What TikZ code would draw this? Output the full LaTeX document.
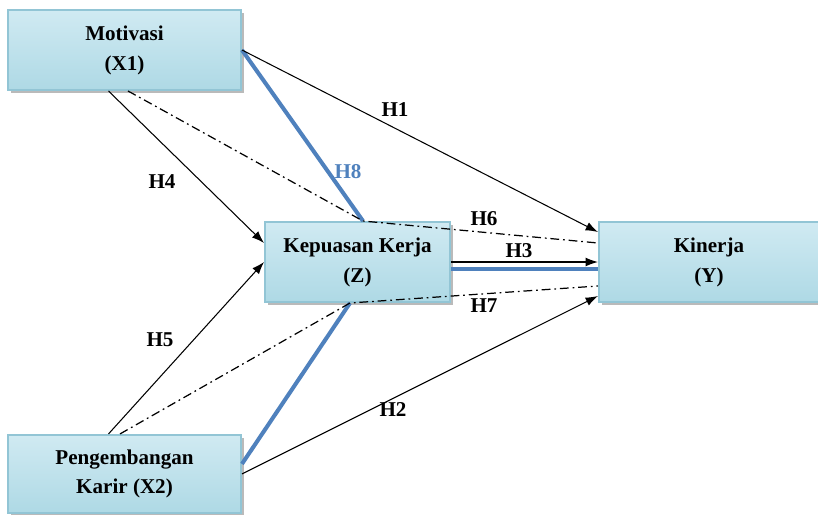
\documentclass[tikz,border=0pt]{standalone}
\usepackage{fontspec}
\setmainfont{Liberation Serif}
\usetikzlibrary{positioning, calc, shadows, arrows.meta}
\definecolor{boxtop}{RGB}{208,234,242}
\definecolor{boxmid}{RGB}{236,246,249}
\definecolor{boxbot}{RGB}{174,217,229}
\definecolor{boxline}{RGB}{146,197,213}
\definecolor{pathblue}{RGB}{79,129,189}

\begin{document}
\begin{tikzpicture}[
        x=0.02cm, y=-0.02cm,
        node distance=1.5cm,
        block/.style={
          align=center, draw=boxline, line width=0.4mm, minimum width=4.66cm, minimum height=1.6cm,
          top color=boxtop, middle color=boxmid, bottom color=boxbot,
          drop shadow={shadow xshift=1.6pt, shadow yshift=-1.6pt, fill=black!45, opacity=.6},
          font=\bfseries\fontsize{12}{17}\selectfont
        },
        hyp/.style={
          font=\bfseries\fontsize{12}{14}\selectfont
        },
        direct/.style={
          line width=0.6pt, ->
        },
        dashdot/.style={
          line width=0.7pt, dash pattern=on 5pt off 2.2pt on 1pt off 2.2pt
        },
        bluepath/.style={
          line width=2.3pt, draw=pathblue
        },
        >={Latex[length=7pt,width=5pt]},
      ]
        \useasboundingbox (0,0) rectangle (818,514);

        % boxes
        \node [block] (mot) at (124.5,50) {Motivasi\\(X1)};
        \node [block, below=6.86cm of mot, minimum height=1.56cm] (pen) {Pengembangan\\Karir (X2)};
        \node [block, minimum width=3.7cm] (kep) at (357.5,262) {Kepuasan Kerja\\(Z)};
        \node [block, right=2.94cm of kep, minimum width=4.4cm] (kin) {Kinerja\\(Y)};

        % points on Z
        \coordinate (ztop) at ([xshift=0.11cm]kep.north);
        \coordinate (zbot) at ([xshift=-0.15cm]kep.south);

        % blue paths
        \draw [bluepath] (mot.east) -- (ztop);
        \draw [bluepath] ([yshift=0.2cm]pen.east) -- (zbot);
        \draw [bluepath] ([yshift=-0.14cm]kep.east) -- ([yshift=-0.14cm]kin.west);

        % direct effects
        \draw [direct] (mot.east) -- ([yshift=0.6cm]kin.west);
        \draw [direct] ([xshift=-0.32cm]mot.south) -- ([yshift=0.38cm]kep.west);
        \draw [direct] ([xshift=-0.32cm]pen.north) -- (kep.west);
        \draw [direct] (kep.east) -- (kin.west);
        \draw [direct] (pen.east) -- ([yshift=-0.68cm]kin.west);

        % indirect effects
        \draw [dashdot] ([xshift=0.07cm]mot.south) -- (ztop) -- ([yshift=0.38cm]kin.west);
        \draw [dashdot] ([xshift=-0.09cm]pen.north) -- (zbot) -- ([yshift=-0.48cm]kin.west);

        % hypotheses
        \node [hyp] (h1) at (395,110) {H1};
        \node [hyp] (h2) at (393,410) {H2};
        \node [hyp] (h3) at (519,251) {H3};
        \node [hyp] (h4) at (162,182) {H4};
        \node [hyp] (h5) at (160,340) {H5};
        \node [hyp] (h6) at (484,219) {H6};
        \node [hyp] (h7) at (484,306) {H7};
        \node [hyp, text=pathblue] (h8) at (348,172) {H8};

      \end{tikzpicture}
\end{document}
